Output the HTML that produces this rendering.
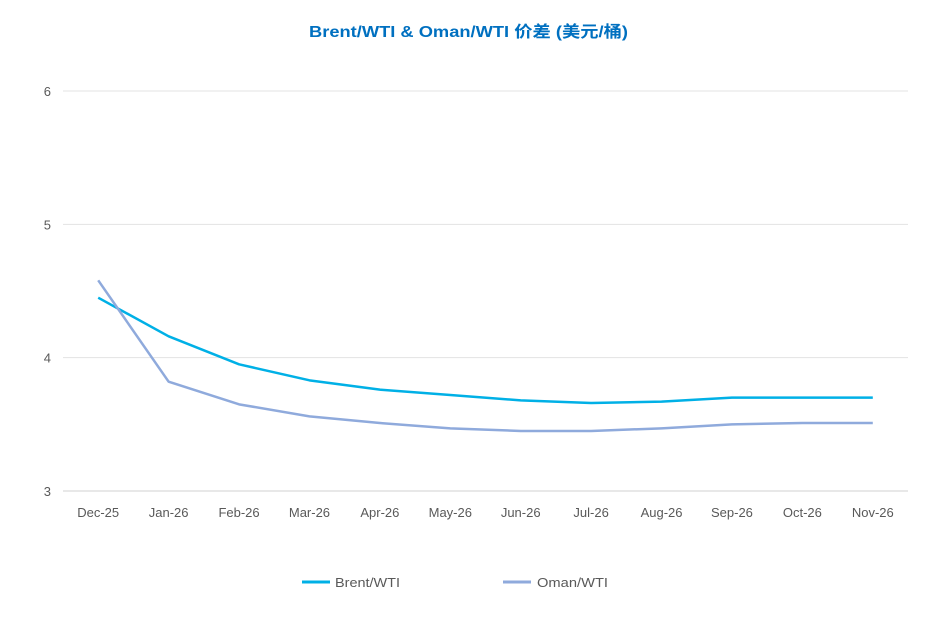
<!DOCTYPE html>
<html><head><meta charset="utf-8"><style>
body{margin:0;background:#fff;width:937px;height:634px;overflow:hidden;font-family:"Liberation Sans","Noto Sans CJK SC",sans-serif}
</style></head><body>
<svg id="chart" width="937" height="634" xmlns="http://www.w3.org/2000/svg">
<text x="309" y="37" textLength="319" lengthAdjust="spacingAndGlyphs" font-size="16" font-weight="bold" fill="#0070c0" font-family="Liberation Sans, Noto Sans CJK SC, sans-serif">Brent/WTI &amp; Oman/WTI 价差 (美元/桶)</text>
<g id="grid"></g><g id="series"></g><g id="xlabels"></g>
<g>
<line x1="302" y1="582" x2="330" y2="582" stroke="#00b0e6" stroke-width="3"/>
<text x="335" y="587" font-size="13" textLength="65" lengthAdjust="spacingAndGlyphs" fill="#595959">Brent/WTI</text>
<line x1="503" y1="582" x2="531" y2="582" stroke="#8faadc" stroke-width="3"/>
<text x="537" y="587" font-size="13" textLength="71" lengthAdjust="spacingAndGlyphs" fill="#595959">Oman/WTI</text>
</g>
</svg>
<script>
const categories=["Dec-25","Jan-26","Feb-26","Mar-26","Apr-26","May-26","Jun-26","Jul-26","Aug-26","Sep-26","Oct-26","Nov-26"];
const brent=[4.45,4.16,3.95,3.83,3.76,3.72,3.68,3.66,3.67,3.70,3.70,3.70];
const oman=[4.58,3.82,3.65,3.56,3.51,3.47,3.45,3.45,3.47,3.50,3.51,3.51];
const yTicks=[3,4,5,6];
const NS="http://www.w3.org/2000/svg";
const x0=63,x1=908,yMin=3,yMax=6,py0=491,py1=91;
const step=(x1-x0)/categories.length;
const xs=i=>x0+step*(i+0.5);
const ys=v=>py0-(v-yMin)/(yMax-yMin)*(py0-py1);
const grid=document.getElementById('grid');
yTicks.forEach(t=>{
 const l=document.createElementNS(NS,'line');
 
 
 l.setAttribute('x1',x0);l.setAttribute('x2',x1);l.setAttribute('y1',ys(t));l.setAttribute('y2',ys(t));
 l.setAttribute('stroke',t===yMin?'#d0d0d0':'#e3e3e3');l.setAttribute('stroke-width','1');
 grid.appendChild(l);
 const tx=document.createElementNS(NS,'text');
 
 
 tx.setAttribute('x',51);tx.setAttribute('y',ys(t)+5);tx.setAttribute('text-anchor','end');
 tx.setAttribute('font-size','13');tx.setAttribute('fill','#595959');tx.textContent=t;
 grid.appendChild(tx);
});
const xl=document.getElementById('xlabels');
categories.forEach((c,i)=>{
 const tx=document.createElementNS(NS,'text');
 
 
 tx.setAttribute('x',xs(i));tx.setAttribute('y',517);tx.setAttribute('text-anchor','middle');
 tx.setAttribute('font-size','13');tx.setAttribute('fill','#595959');tx.textContent=c;
 xl.appendChild(tx);
});
const sg=document.getElementById('series');
[[brent,'#00b0e6','brent-wti-line'],[oman,'#8faadc','oman-wti-line']].forEach(([d,col,name])=>{
 const p=document.createElementNS(NS,'polyline');
 
 
 p.setAttribute('points',d.map((v,i)=>xs(i)+','+ys(v)).join(' '));
 p.setAttribute('fill','none');p.setAttribute('stroke',col);p.setAttribute('stroke-width','2.5');
 p.setAttribute('stroke-linejoin','round');
 sg.appendChild(p);
});
</script>
</body></html>
